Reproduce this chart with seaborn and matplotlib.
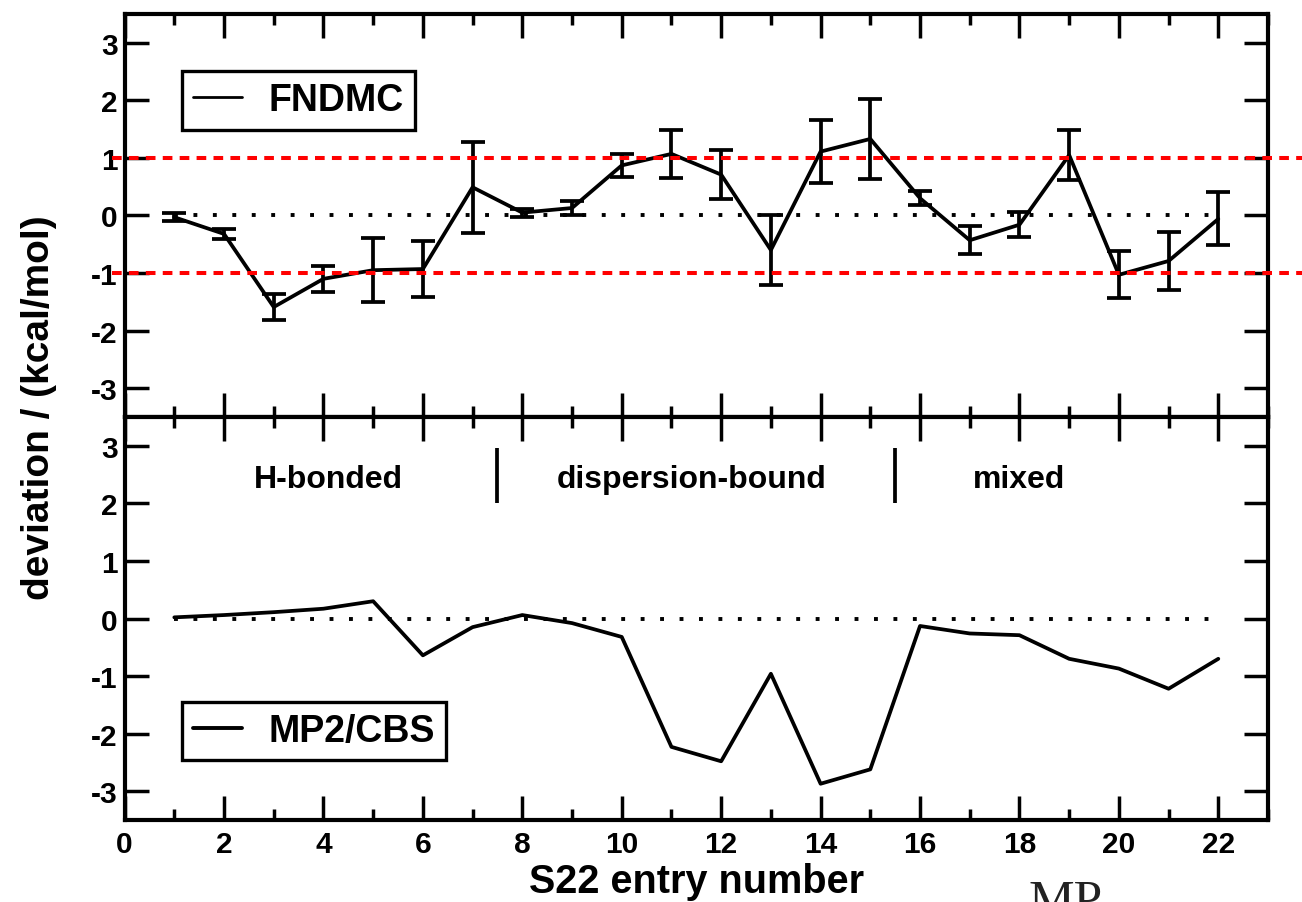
import matplotlib
matplotlib.use("Agg")
import matplotlib.pyplot as plt
import seaborn as sns
import pandas as pd
from matplotlib.ticker import MultipleLocator

# ---------------- data ----------------
entries = list(range(1, 23))
fndmc = [-0.03, -0.32, -1.59, -1.10, -0.95, -0.93, 0.49, 0.05, 0.13, 0.87, 1.07,
         0.71, -0.60, 1.11, 1.33, 0.30, -0.43, -0.16, 1.05, -1.03, -0.79, -0.06]
fndmc_err = [0.07, 0.09, 0.22, 0.23, 0.56, 0.49, 0.79, 0.07, 0.12, 0.20, 0.42,
             0.43, 0.60, 0.54, 0.70, 0.12, 0.24, 0.22, 0.43, 0.41, 0.51, 0.46]
mp2 = [0.02, 0.06, 0.11, 0.17, 0.30, -0.64, -0.15, 0.06, -0.08, -0.32, -2.23,
       -2.48, -0.96, -2.87, -2.62, -0.13, -0.26, -0.29, -0.70, -0.87, -1.22, -0.70]

thresholds = [1.0, -1.0]
zero_level = 0.0
group_names = ["H-bonded", "dispersion-bound", "mixed"]
group_label_x = [4.1, 11.4, 18.0]
group_label_y = 2.28
group_bounds = [7.5, 15.5]
group_bar_span = [2.0, 2.97]

xticks = list(range(0, 23, 2))
yticks = [-3, -2, -1, 0, 1, 2, 3]

df = pd.DataFrame({"entry": entries, "FNDMC": fndmc, "err": fndmc_err, "MP2/CBS": mp2})

# ---------------- style ----------------
sns.set_theme(style="ticks")
plt.rcParams["font.family"] = ["Liberation Sans", "DejaVu Sans"]
plt.rcParams["font.weight"] = "bold"
plt.rcParams["axes.unicode_minus"] = False
for key in ("text.color", "axes.labelcolor", "xtick.color", "ytick.color",
            "axes.edgecolor", "xtick.labelcolor", "ytick.labelcolor"):
    plt.rcParams[key] = "black"

LW = 2.7

fig, (ax1, ax2) = plt.subplots(2, 1, figsize=(13.02, 9.03), dpi=100, sharex=True)
fig.subplots_adjust(left=0.0957, right=0.9739, top=0.9834, bottom=0.0908, hspace=0)

# ---- top panel: FNDMC ----
sns.lineplot(data=df, x="entry", y="FNDMC", ax=ax1, color="black", lw=LW,
             label="FNDMC", zorder=3)
ax1.errorbar(df["entry"], df["FNDMC"], yerr=df["err"], fmt="none", ecolor="black",
             elinewidth=LW, capsize=8.5, capthick=LW, zorder=3)
ax1.hlines(zero_level, entries[0], entries[-1], colors="black",
           linestyles=(0, (1, 4)), lw=2.8, zorder=2)
for t in thresholds:
    ax1.axhline(t, xmin=-0.011, xmax=1.05, color="red", lw=2.9,
                linestyle=(0, (2.4, 1.8)), clip_on=False, zorder=5)

# ---- bottom panel: MP2/CBS ----
sns.lineplot(data=df, x="entry", y="MP2/CBS", ax=ax2, color="black", lw=LW,
             label="MP2/CBS", zorder=3)
ax2.hlines(zero_level, entries[0], entries[-1], colors="black",
           linestyles=(0, (1, 4)), lw=2.8, zorder=2)
for name, gx in zip(group_names, group_label_x):
    ax2.text(gx, group_label_y, name, ha="center", va="baseline", fontsize=23,
             fontweight="bold")
ax2.vlines(group_bounds, group_bar_span[0], group_bar_span[1], colors="black", lw=LW)

for ax, leg_y, hlw in ((ax1, 0.858, 2.0), (ax2, 0.2935, 2.8)):
    ax.set_xlim(0, 23)
    ax.set_ylim(-3.5, 3.5)
    ax.set_yticks(yticks)
    ax.set_xticks(xticks)
    ax.xaxis.set_minor_locator(MultipleLocator(1))
    ax.tick_params(which="major", direction="in", length=17, width=2.5,
                   top=True, right=True, labelsize=21.5, color="black")
    ax.tick_params(which="minor", direction="in", length=8, width=2.5,
                   top=True, right=True, color="black")
    ax.tick_params(axis="x", pad=7)
    ax.tick_params(axis="y", pad=5)
    for s in ax.spines.values():
        s.set_visible(True)
        s.set_color("black")
        s.set_linewidth(3.0)
    ax.set_ylabel("")
    ax.set_xlabel("")
    leg = ax.legend(loc="upper left", bbox_to_anchor=(0.05, leg_y), borderaxespad=0,
                    fontsize=27, frameon=True, fancybox=False, edgecolor="black",
                    framealpha=1, handlelength=1.3, handletextpad=0.7, borderpad=0.3)
    leg.get_frame().set_linewidth(2.4)
    for line in leg.get_lines():
        line.set_linewidth(hlw)

ax1.tick_params(axis="x", which="both", labelbottom=False)
ax2.set_xlabel("S22 entry number", fontsize=28.5, fontweight="bold", labelpad=3)
fig.text(0.030, 1 - 408 / 903, "deviation / (kcal/mol)", rotation=90, ha="center",
         va="center", fontsize=28, fontweight="bold")

# cropped caption fragment at the bottom of the page (cut off as in the source)
fig.text(1028 / 1302, -0.013, "MP", fontsize=37, color="#222222",
         family=["Liberation Serif", "DejaVu Serif"], fontweight="normal",
         ha="left", va="baseline")

fig.savefig("out.png", dpi=100)
